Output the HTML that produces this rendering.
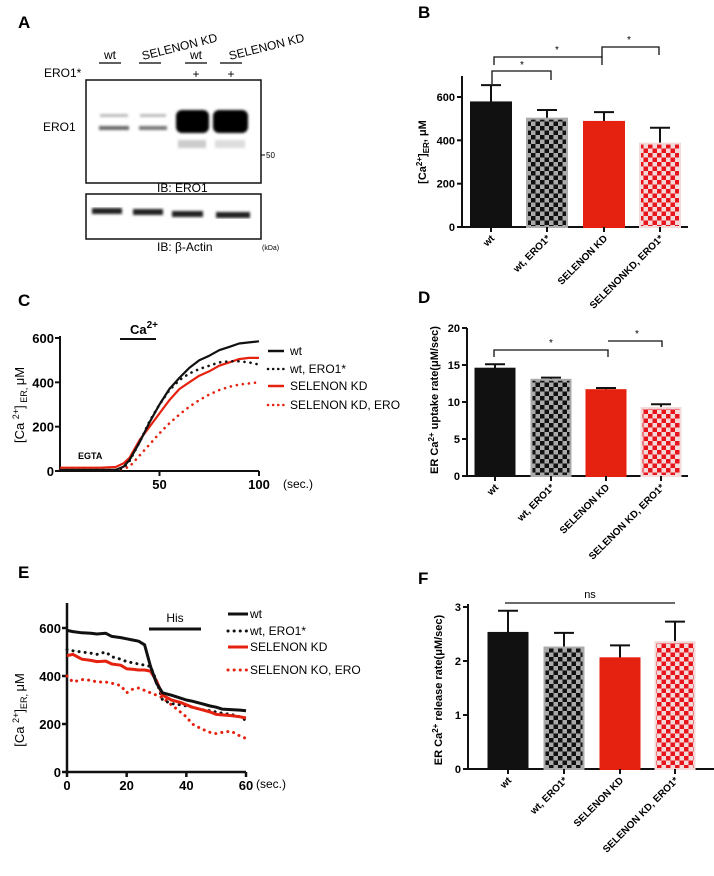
<!DOCTYPE html>
<html><head><meta charset="utf-8"><style>
html,body{margin:0;padding:0;background:#fff;}
svg{display:block;font-family:"Liberation Sans",Arial,sans-serif;}
</style></head><body>
<svg id="fig" width="714" height="876" viewBox="0 0 714 876">
<defs>
<pattern id="chkBlack" width="9" height="9" patternUnits="userSpaceOnUse"><rect width="9" height="9" fill="#aaa"/><rect width="4.5" height="4.5" fill="#111"/><rect x="4.5" y="4.5" width="4.5" height="4.5" fill="#111"/></pattern>
<pattern id="chkRed" width="9" height="9" patternUnits="userSpaceOnUse"><rect width="9" height="9" fill="#f2dada"/><rect width="4.5" height="4.5" fill="#e8141b"/><rect x="4.5" y="4.5" width="4.5" height="4.5" fill="#e8141b"/></pattern>
<filter id="blur1"><feGaussianBlur stdDeviation="1.2"/></filter>
</defs>

<!-- Panel A -->
<g>
<text x="18" y="28" font-size="17" font-weight="bold">A</text>
<text x="110" y="59" font-size="12" text-anchor="middle">wt</text>
<line x1="99" y1="63" x2="121" y2="63" stroke="#000" stroke-width="1.3"/>
<text x="143" y="60" font-size="12" transform="rotate(-14 143 60)">SELENON KD</text>
<line x1="139" y1="63" x2="161" y2="63" stroke="#000" stroke-width="1.3"/>
<text x="196" y="59" font-size="12" text-anchor="middle">wt</text>
<line x1="185" y1="63" x2="207" y2="63" stroke="#000" stroke-width="1.3"/>
<text x="230" y="60" font-size="12" transform="rotate(-14 230 60)">SELENON KD</text>
<line x1="220" y1="63" x2="242" y2="63" stroke="#000" stroke-width="1.3"/>
<text x="44" y="77" font-size="12">ERO1*</text>
<text x="196" y="78" font-size="12" text-anchor="middle">+</text>
<text x="231" y="78" font-size="12" text-anchor="middle">+</text>
<text x="43" y="131" font-size="12">ERO1</text>
<rect x="86" y="80" width="175" height="103" fill="#fff" stroke="#111" stroke-width="1.5"/>
<g filter="url(#blur1)">
<rect x="100" y="114" width="28" height="3" fill="#bbb"/><rect x="140" y="114" width="26" height="3" fill="#bbb"/>
<rect x="99" y="126" width="30" height="4" fill="#666"/><rect x="139" y="126" width="28" height="4" fill="#777"/>
<rect x="176" y="110" width="33" height="23" rx="6" fill="#000"/><rect x="213" y="110" width="35" height="23" rx="6" fill="#000"/>
<rect x="178" y="140" width="28" height="8" fill="#ccc"/><rect x="215" y="140" width="30" height="8" fill="#ddd"/>
</g>
<line x1="261" y1="155" x2="265" y2="155" stroke="#000"/>
<text x="266" y="158" font-size="8">50</text>
<text x="157" y="192" font-size="12">IB: ERO1</text>
<rect x="86" y="194" width="175" height="45" fill="#fff" stroke="#111" stroke-width="1.5"/>
<g filter="url(#blur1)">
<rect x="92" y="208" width="30" height="6" fill="#222"/><rect x="133" y="209" width="30" height="6" fill="#222"/>
<rect x="172" y="211" width="31" height="6" fill="#222"/><rect x="216" y="212" width="34" height="6" fill="#222"/>
</g>
<text x="157" y="251" font-size="12">IB:  β-Actin</text>
<text x="262" y="250" font-size="7">(kDa)</text>
</g>

<g id="pB"></g>
<g id="pC"></g>
<g id="pD"></g>
<g id="pE"></g>
<g id="pF"></g>
</svg>
<script>
// ---- data ----
const barCats = ["wt", "wt, ERO1*", "SELENON KD", "SELENON KD, ERO1*"];
const bCats = ["wt", "wt, ERO1*", "SELENON KD", "SELENONKD, ERO1*"];
const bVals = [575, 500, 485, 385];
const bErr = [655, 540, 530, 458];
const bTicks = [0, 200, 400, 600];
const dVals = [14.5, 13.0, 11.6, 9.2];
const dErr = [15.1, 13.3, 11.9, 9.7];
const dTicks = [0, 5, 10, 15, 20];
const fVals = [2.52, 2.25, 2.05, 2.35];
const fErr = [2.93, 2.52, 2.29, 2.73];
const fTicks = [0, 1, 2, 3];

const cTime = [0, 10, 20, 28, 32, 35, 40, 45, 50, 55, 60, 65, 70, 75, 80, 85, 90, 95, 100];
const cWt = [5, 5, 5, 5, 20, 50, 130, 220, 300, 370, 420, 465, 500, 520, 545, 560, 575, 580, 585];
const cWtEro = [2, 2, 2, 2, 15, 45, 130, 225, 300, 365, 410, 440, 460, 475, 490, 495, 495, 490, 480];
const cSel = [15, 15, 15, 18, 35, 60, 140, 200, 260, 320, 370, 400, 430, 450, 475, 490, 505, 510, 510];
const cSelEro = [5, 5, 5, 5, 10, 20, 70, 120, 170, 215, 255, 290, 320, 345, 365, 380, 390, 395, 400];
const cXTicks = [50, 100];
const cYTicks = [0, 200, 400, 600];

const eTime = [0, 2, 5, 8, 10, 13, 15, 18, 20, 22, 24, 26, 28, 30, 32, 35, 38, 40, 42, 45, 48, 50, 52, 55, 58, 60];
const eWt = [590, 585, 580, 578, 575, 578, 565, 560, 555, 550, 545, 530, 440, 370, 330, 320, 308, 300, 295, 285, 275, 270, 262, 260, 258, 255];
const eWtEro = [510, 505, 500, 495, 490, 500, 480, 470, 460, 455, 450, 445, 440, 380, 300, 285, 280, 275, 270, 260, 255, 250, 245, 240, 230, 215];
const eSel = [485, 490, 470, 465, 460, 462, 450, 445, 430, 428, 425, 425, 420, 380, 320, 300, 290, 280, 270, 260, 250, 240, 238, 235, 230, 225];
const eSelEro = [400, 375, 385, 382, 375, 375, 370, 360, 330, 345, 350, 340, 330, 320, 310, 280, 250, 230, 200, 180, 165, 160, 165, 170, 150, 140];
const eXTicks = [0, 20, 40, 60];
const eYTicks = [0, 200, 400, 600];

const NS = "http://www.w3.org/2000/svg";
function mk(parent, tag, attrs, txt) {
  const el = document.createElementNS(NS, tag);
  for (const k in attrs) el.setAttribute(k, attrs[k]);
  if (txt !== undefined) el.textContent = txt;
  parent.appendChild(el);
  return el;
}
const fills = ["#111", "url(#chkBlack)", "#e5210f", "url(#chkRed)"];
const strokes = ["#111", "#aaa", "#e5210f", "#f2dada"];

function barChart(g, cfg, cats, vals, errs, ticks) {
  const y = v => cfg.y0 - (v - 0) / cfg.max * (cfg.y0 - cfg.yTop);
  mk(g, "text", {x: 418, y: cfg.labelY, "font-size": 17, "font-weight": "bold"}, cfg.label);
  const ax = mk(g, "line", {x1: cfg.ax, y1: cfg.axTop, x2: cfg.ax, y2: cfg.y0, stroke: "#111", "stroke-width": 2});
  
  
  const xa = mk(g, "line", {x1: cfg.ax, y1: cfg.y0, x2: cfg.axRight, y2: cfg.y0, stroke: "#111", "stroke-width": 2});
  
  
  ticks.forEach(t => {
    mk(g, "line", {x1: cfg.ax - 5, y1: y(t), x2: cfg.ax, y2: y(t), stroke: "#111", "stroke-width": 2});
    const tl = mk(g, "text", {x: cfg.ax - 7, y: y(t) + 4, "font-size": 11, "font-weight": "bold", "text-anchor": "end"}, t);
    
    
  });
  cats.forEach((c, i) => {
    const cx = cfg.centers[i], w = cfg.bw;
    mk(g, "line", {x1: cx, y1: y(errs[i]), x2: cx, y2: y(vals[i]), stroke: "#111", "stroke-width": 2});
    mk(g, "line", {x1: cx - 10, y1: y(errs[i]), x2: cx + 10, y2: y(errs[i]), stroke: "#111", "stroke-width": 2});
    const r = mk(g, "rect", {x: cx - w / 2, y: y(vals[i]), width: w, height: cfg.y0 - y(vals[i]), fill: fills[i], stroke: strokes[i], "stroke-width": 2});
    
    
    mk(g, "line", {x1: cx, y1: cfg.y0, x2: cx, y2: cfg.y0 + 5, stroke: "#111", "stroke-width": 2});
    const lx = cx + 4, ly = cfg.y0 + 12;
    const t = mk(g, "text", {x: lx, y: ly, "font-size": 10, "font-weight": "bold", "text-anchor": "end", transform: `rotate(-45 ${lx} ${ly})`}, c);
    
    
  });
  return y;
}
function bracket(g, x1, x2, yy, leg1, leg2, label, lx, ly) {
  mk(g, "path", {d: `M${x1} ${leg1}V${yy}H${x2}V${leg2}`, fill: "none", stroke: "#111", "stroke-width": 1.3});
  const s = mk(g, "text", {x: lx, y: ly, "font-size": label === "ns" ? 11 : 10, "text-anchor": "middle"}, label);
  
  
}

// B
const gB = document.getElementById("pB");
barChart(gB, {label: "B", labelY: 18, ax: 462, axTop: 76, axRight: 688, y0: 227, yTop: 97, max: 600, centers: [491, 547, 604, 660], bw: 40}, bCats, bVals, bErr, bTicks);
mk(gB, "text", {x: 0, y: 0, "font-size": 11, "font-weight": "bold", "text-anchor": "middle", transform: "translate(426 152) rotate(-90)"}).innerHTML = '[Ca<tspan dy="-4" font-size="8">2+</tspan><tspan dy="4">]</tspan><tspan dy="3" font-size="8">ER</tspan><tspan dy="-3">, μM</tspan>';
bracket(gB, 492, 551, 71, 84, 80, "*", 522, 68);
bracket(gB, 494, 602, 57, 65, 65, "*", 557, 53);
bracket(gB, 602, 659, 47, 57, 55, "*", 629, 43);

// D
const gD = document.getElementById("pD");
barChart(gD, {label: "D", labelY: 303, ax: 467, axTop: 328, axRight: 688, y0: 476, yTop: 328, max: 20, centers: [495, 551, 606, 661], bw: 39}, barCats, dVals, dErr, dTicks);
mk(gD, "text", {x: 0, y: 0, "font-size": 11, "font-weight": "bold", "text-anchor": "middle", transform: "translate(438 400) rotate(-90)"}).innerHTML = 'ER Ca<tspan dy="-4" font-size="8">2+</tspan><tspan dy="4"> uptake rate(μM/sec)</tspan>';
bracket(gD, 494, 608, 350, 357, 357, "*", 551, 346);
bracket(gD, 608, 662, 341, 341, 347, "*", 637, 337);

// F
const gF = document.getElementById("pF");
barChart(gF, {label: "F", labelY: 584, ax: 468, axTop: 604, axRight: 714, y0: 769, yTop: 607, max: 3, centers: [508, 564, 620, 675], bw: 39}, barCats, fVals, fErr, fTicks);
mk(gF, "text", {x: 0, y: 0, "font-size": 11, "font-weight": "bold", "text-anchor": "middle", transform: "translate(442 690) rotate(-90)"}).innerHTML = 'ER Ca<tspan dy="-4" font-size="8">2+</tspan><tspan dy="4"> release rate(μM/sec)</tspan>';
mk(gF, "line", {x1: 505, y1: 603, x2: 675, y2: 603, stroke: "#111", "stroke-width": 1.3});
const ns = mk(gF, "text", {x: 590, y: 598, "font-size": 11, "text-anchor": "middle"}, "ns");



// trace chart helper
function trace(g, cfg, tx, ty, xt, yt, series) {
  const X = v => cfg.x0 + (v - cfg.xmin) / (cfg.xmax - cfg.xmin) * (cfg.x1 - cfg.x0);
  const Y = v => cfg.y0 - v / cfg.ymax * (cfg.y0 - cfg.yTop);
  const ax = mk(g, "path", {d: `M${cfg.x0} ${cfg.axTop}V${cfg.y0}H${cfg.x1}`, fill: "none", stroke: "#111", "stroke-width": cfg.aw});
  
  
  yt.forEach(t => {
    mk(g, "line", {x1: cfg.x0 - 5, y1: Y(t), x2: cfg.x0, y2: Y(t), stroke: "#111", "stroke-width": cfg.aw});
    const l = mk(g, "text", {x: cfg.x0 - 6, y: Y(t) + 5, "font-size": 13, "font-weight": "bold", "text-anchor": "end"}, t);
    
    
  });
  xt.forEach(t => {
    mk(g, "line", {x1: X(t), y1: cfg.y0, x2: X(t), y2: cfg.y0 + 5, stroke: "#111", "stroke-width": cfg.aw});
    const l = mk(g, "text", {x: X(t), y: cfg.y0 + 18, "font-size": 13, "font-weight": "bold", "text-anchor": "middle"}, t);
    
    
  });
  series.forEach(s => {
    const d = tx.map((t, i) => (i ? "L" : "M") + X(t).toFixed(1) + " " + Y(s.v[i]).toFixed(1)).join("");
    const p = mk(g, "path", {d: d, fill: "none", stroke: s.c, "stroke-width": s.w, "stroke-dasharray": s.dash || "none", "stroke-linecap": s.dash ? "round" : "butt", "stroke-linejoin": "round"});
    
    
  });
  return {X, Y};
}

// C
const gC = document.getElementById("pC");
mk(gC, "text", {x: 18, y: 306, "font-size": 17, "font-weight": "bold"}, "C");
trace(gC, {x0: 60, x1: 259, xmin: 0, xmax: 100, y0: 471, yTop: 338, ymax: 600, axTop: 336, aw: 2}, cTime, null, cXTicks, cYTicks, [
  {v: cSelEro, c: "#e5210f", w: 2.6, dash: "0.1 6", name: "series-selenon-kd-ero"},
  {v: cSel, c: "#e5210f", w: 2.2, name: "series-selenon-kd"},
  {v: cWtEro, c: "#111", w: 2.6, dash: "0.1 6", name: "series-wt-ero1"},
  {v: cWt, c: "#111", w: 2.2, name: "series-wt"}
]);
mk(gC, "line", {x1: 120, y1: 339, x2: 156, y2: 339, stroke: "#111", "stroke-width": 2});
mk(gC, "text", {x: 130, y: 334, "font-size": 13, "font-weight": "bold"}).innerHTML = 'Ca<tspan dy="-6" font-size="10">2+</tspan>';
mk(gC, "text", {x: 78, y: 459, "font-size": 9, "font-weight": "bold"}, "EGTA");
mk(gC, "text", {x: 283, y: 488, "font-size": 12}, "(sec.)");
mk(gC, "text", {x: 0, y: 0, "font-size": 13, "text-anchor": "middle", transform: "translate(24 405) rotate(-90)"}).innerHTML = '[Ca <tspan dy="-5" font-size="9">2+</tspan><tspan dy="5">]</tspan><tspan dy="3" font-size="9"> ER, </tspan><tspan dy="-3">μM</tspan>';
const legC = [["wt", "#111", null, 351], ["wt, ERO1*", "#111", "0.1 5", 369], ["SELENON KD", "#e5210f", null, 386], ["SELENON KD, ERO", "#e5210f", "0.1 5", 405]];
legC.forEach(l => {
  mk(gC, "line", {x1: 268, y1: l[3], x2: 284, y2: l[3], stroke: l[1], "stroke-width": 2.5, "stroke-dasharray": l[2] || "none", "stroke-linecap": l[2] ? "round" : "butt"});
  const t = mk(gC, "text", {x: 290, y: l[3] + 4, "font-size": 12}, l[0]);
  
  
});

// E
const gE = document.getElementById("pE");
mk(gE, "text", {x: 18, y: 578, "font-size": 17, "font-weight": "bold"}, "E");
trace(gE, {x0: 67, x1: 246, xmin: 0, xmax: 60, y0: 772, yTop: 628, ymax: 600, axTop: 603, aw: 2.5}, eTime, null, eXTicks, eYTicks, [
  {v: eSelEro, c: "#e5210f", w: 3, dash: "0.1 6", name: "series-selenon-ko-ero"},
  {v: eWtEro, c: "#111", w: 3, dash: "0.1 6", name: "series-wt-ero1"},
  {v: eSel, c: "#e5210f", w: 3, name: "series-selenon-kd"},
  {v: eWt, c: "#111", w: 3, name: "series-wt"}
]);
mk(gE, "line", {x1: 149, y1: 629, x2: 201, y2: 629, stroke: "#111", "stroke-width": 3});
mk(gE, "text", {x: 175, y: 622, "font-size": 12, "text-anchor": "middle"}, "His");
mk(gE, "text", {x: 256, y: 788, "font-size": 12}, "(sec.)");
mk(gE, "text", {x: 0, y: 0, "font-size": 13, "text-anchor": "middle", transform: "translate(24 710) rotate(-90)"}).innerHTML = '[Ca <tspan dy="-5" font-size="9">2+</tspan><tspan dy="5">]</tspan><tspan dy="3" font-size="9">ER, </tspan><tspan dy="-3">μM</tspan>';
const legE = [["wt", "#111", null, 614], ["wt, ERO1*", "#111", "0.1 6", 631], ["SELENON KD", "#e5210f", null, 647], ["SELENON KO, ERO", "#e5210f", "0.1 6", 670]];
legE.forEach(l => {
  mk(gE, "line", {x1: 228, y1: l[3], x2: 248, y2: l[3], stroke: l[1], "stroke-width": 3, "stroke-dasharray": l[2] || "none", "stroke-linecap": l[2] ? "round" : "butt"});
  const t = mk(gE, "text", {x: 250, y: l[3] + 4, "font-size": 12}, l[0]);
  
  
});
</script>
</body></html>
